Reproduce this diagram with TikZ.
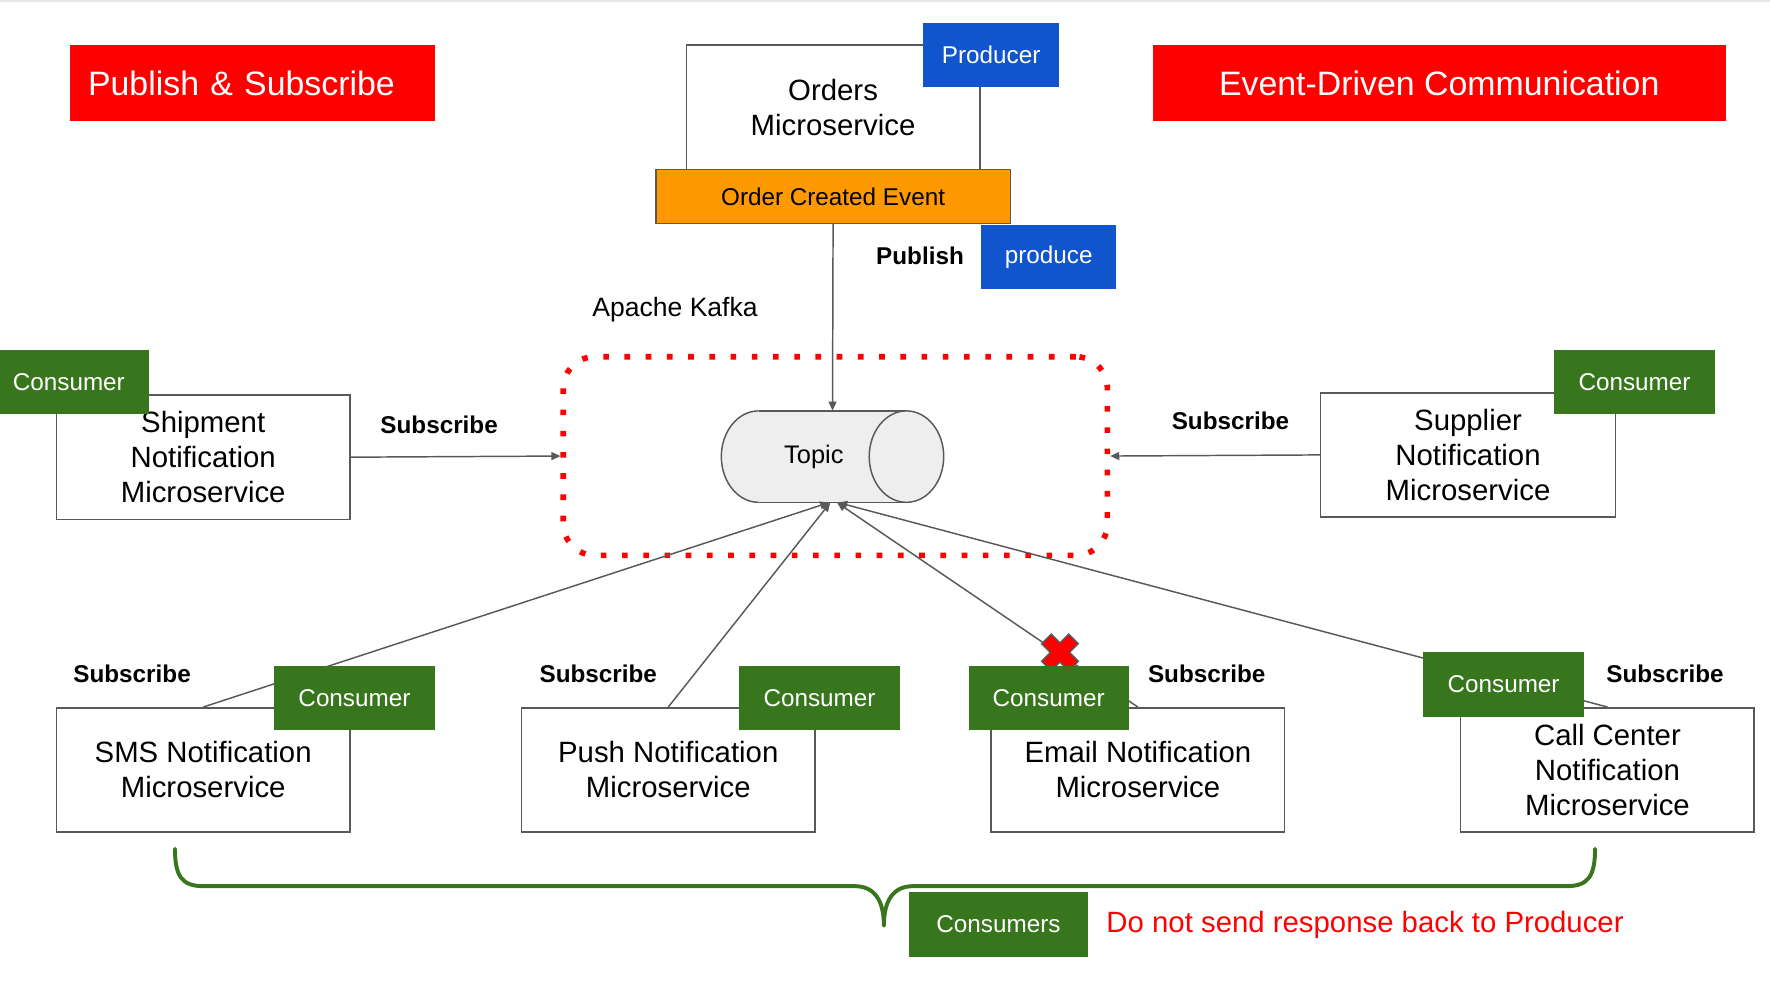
\documentclass[tikz,border=0pt]{standalone}
\usepackage{fontspec}
\setmainfont{Liberation Sans}
\usetikzlibrary{arrows.meta}
\definecolor{gred}{HTML}{FF0000}
\definecolor{gblue}{HTML}{1155CC}
\definecolor{ggreen}{HTML}{38761D}
\definecolor{gorange}{HTML}{FF9900}
\definecolor{gline}{HTML}{595959}
\definecolor{gcyl}{HTML}{EEEEEE}
\definecolor{gtop}{HTML}{E6E6E6}
\begin{document}
\begin{tikzpicture}[x=1pt,y=-1pt,
  svc/.style={draw=gline, line width=1.3pt, fill=white, minimum width=260pt, minimum height=110pt, align=center, inner sep=0pt, font=\fontsize{26}{31}\selectfont},
  tag/.style={fill=#1, text=white, minimum width=142pt, minimum height=57pt, inner sep=0pt, font=\fontsize{21.5}{25}\selectfont},
  titlebox/.style={fill=gred, text=white, minimum height=67pt, inner sep=0pt, font=\fontsize{30}{36}\selectfont},
  lbl/.style={font=\fontsize{21.5}{25}\selectfont\bfseries, inner sep=0pt},
  conn/.style={draw=gline, line width=1.3pt, -{Triangle[length=8pt,width=7pt]}},
  cyl/.style={draw=gline, line width=1.3pt},
]
\useasboundingbox (0,0) rectangle (1568,880);
\draw[gtop, line width=2pt] (0,0.8) -- (1568,0.8);

% titles
\node[titlebox, minimum width=323pt, text width=291pt, align=left, inner xsep=16pt] (t1) at (223.5,73.5) {Publish \& Subscribe};
\node[titlebox, minimum width=508pt] (t2) at (1275,73.5) {Event-Driven Communication};

% producer side
\node[svc] (orders) at (738,95) {Orders\\Microservice};
\node[tag=gblue, minimum width=120pt] (producer) at (878,48.5) {Producer};
\node[draw=gline, line width=1.3pt, fill=gorange, minimum width=314pt, minimum height=48pt, inner sep=0pt, font=\fontsize{21.5}{25}\selectfont] (event) at (738,174) {Order Created Event};
\node[tag=gblue, minimum width=120pt] (produce) at (929,227.5) {produce};
\node[lbl] (publish) at (815,227) {Publish};

% kafka
\node[font=\fontsize{23.5}{28}\selectfont, inner sep=0pt] (kafkalbl) at (598,274) {Apache Kafka};
\node[draw=gred, line width=5pt, dash pattern=on 5pt off 13.8pt, rounded corners=28pt, minimum width=482pt, minimum height=176pt] (kafka) at (740,404) {};

% topic cylinder
\fill[gcyl] (672,404.5) ellipse [x radius=33pt, y radius=40.5pt];
\fill[gcyl] (672,364) rectangle (803,445);
\begin{scope}
  \clip (600,340) rectangle (672,470);
  \draw[cyl] (672,404.5) ellipse [x radius=33pt, y radius=40.5pt];
\end{scope}
\draw[cyl] (672,364) -- (803,364);
\draw[cyl] (672,445) -- (803,445);
\filldraw[cyl, fill=gcyl] (803,404.5) ellipse [x radius=33pt, y radius=40.5pt];
\node[minimum width=197pt, minimum height=81pt, inner sep=0pt, font=\fontsize{22.5}{27}\selectfont] (topic) at (737.5,404.5) {\hspace*{-33pt}Topic};

\draw[conn] (event.south) -- (topic.north);

% left / right services
\node[svc] (ship) at (180,405) {Shipment\\Notification\\Microservice};
\node[tag=ggreen] (shipc) at (61,338.5) {Consumer};
\draw[conn] (ship.east) -- (kafka.west);
\node[lbl] (sub1) at (389,376) {Subscribe};

\node[svc, minimum width=261pt] (sup) at (1300.5,403) {Supplier\\Notification\\Microservice};
\node[tag=ggreen] (supc) at (1448,338.5) {Consumer};
\draw[conn] (sup.west) -- (kafka.east);
\node[lbl] (sub2) at (1090,373) {Subscribe};

% bottom services
\node[svc] (sms) at (180,682) {SMS Notification\\Microservice};
\node[svc] (push) at (592,682) {Push Notification\\Microservice};
\node[svc] (email) at (1008,682) {Email Notification\\Microservice};
\node[svc] (call) at (1424,682) {Call Center\\Notification\\Microservice};

\draw[conn] (sms.north) -- ([xshift=-3pt]topic.south);
\draw[conn] (push.north) -- ([xshift=-2pt]topic.south);
\draw[conn] (email.north) -- ([xshift=4pt]topic.south);
\draw[conn] (call.north) -- ([xshift=5pt]topic.south);

% red cross
\begin{scope}[shift={(939,578)}, rotate=45]
  \filldraw[fill=gred, draw=gline, line width=1.2pt]
    (-6,-17) -- (6,-17) -- (6,-6) -- (17,-6) -- (17,6) -- (6,6) -- (6,17) -- (-6,17) -- (-6,6) -- (-17,6) -- (-17,-6) -- (-6,-6) -- cycle;
\end{scope}

\node[tag=ggreen] (smsc) at (314,618.5) {Consumer};
\node[tag=ggreen] (pushc) at (726,618.5) {Consumer};
\node[tag=ggreen] (emailc) at (929,618.5) {Consumer};
\node[tag=ggreen] (callc) at (1332,606.5) {Consumer};

\node[lbl] (sub3) at (117,597) {Subscribe};
\node[lbl] (sub4) at (530,597) {Subscribe};
\node[lbl] (sub5) at (1069,597) {Subscribe};
\node[lbl] (sub6) at (1475,597) {Subscribe};

% brace
\draw[ggreen, line width=3.5pt, line cap=round, line join=round]
  (155,752) .. controls (155,776) and (161,785) .. (180,785) -- (757,785)
  .. controls (775,785) and (783,798) .. (783,820)
  .. controls (783,798) and (791,785) .. (809,785) -- (1388,785)
  .. controls (1407,785) and (1413,776) .. (1413,752);

\node[tag=ggreen, minimum width=159pt, minimum height=58pt] (cons) at (884.5,819) {Consumers};
\node[text=gred, font=\fontsize{26}{31}\selectfont, inner sep=0pt, anchor=west] (note) at (980,819) {Do not send response back to Producer};
\end{tikzpicture}
\end{document}
